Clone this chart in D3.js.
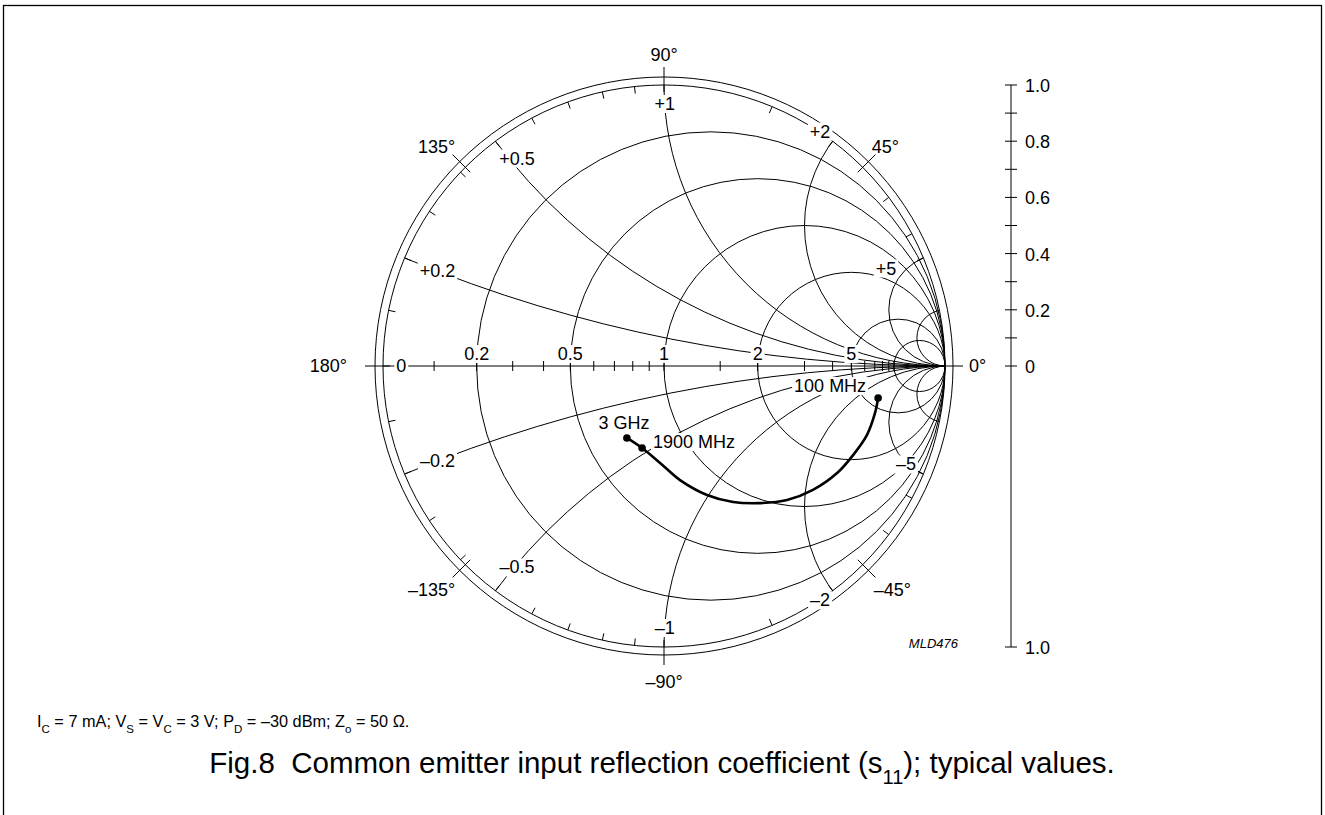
<!DOCTYPE html>
<html>
<head>
<meta charset="utf-8">
<script src="https://cdn.jsdelivr.net/npm/d3@7/dist/d3.min.js"></script>
<style>
body { margin: 0; background: #fff; }
svg { display: block; font-family: "Liberation Sans", Arial, sans-serif; }
</style>
</head>
<body>
<svg width="1325" height="815"></svg>
<script>
var svg = d3.select("svg"),
    width = +svg.attr("width"),
    height = +svg.attr("height");

var s11Re = [0.762, 0.751, 0.722, 0.673, 0.616, 0.530, 0.438, 0.342, 0.246, 0.153, 0.057, -0.014, -0.078, -0.132];
var s11Im = [-0.114, -0.167, -0.246, -0.317, -0.381, -0.441, -0.477, -0.488, -0.484, -0.459, -0.406, -0.345, -0.292, -0.256];
var markIndex = [0, 12, 13];
var markLabels = ["100 MHz", "1900 MHz", "3 GHz"];

// smith grid
var rCircles = [0.2, 0.5, 1, 2, 5, 10];
var rLabels = [0, 0.2, 0.5, 1, 2, 5];
var rTicks = [0.1, 0.2, 0.3, 0.4, 0.5, 0.6, 0.7, 0.8, 0.9, 1, 1.5, 2, 3, 4, 5, 6, 7, 8, 9, 10];
var xArcs = [0.2, 0.5, 1, 2, 5, 10];
var xLabels = [0.2, 0.5, 1, 2, 5];
var xTicks = [0.1, 0.2, 0.3, 0.4, 0.5, 0.6, 0.7, 0.8, 0.9, 1.5, 2, 3, 4, 5];
var angleTicks = [0, 45, 90, 135, 180, -45, -90, -135];
var magTicks = [0, 0.1, 0.2, 0.3, 0.4, 0.5, 0.6, 0.7, 0.8, 0.9, 1];
var magLabels = ["0", "0.2", "0.4", "0.6", "0.8", "1.0"];

var cx = 664, cy = 366, R = 281, R2 = 289;

var x = d3.scaleLinear().domain([-1, 1]).range([cx - R, cx + R]);
var y = d3.scaleLinear().domain([-1, 1]).range([cy + R, cy - R]);
var rad = d3.scaleLinear().domain([0, 1]).range([0, R]);

function gamma(r, xi) {
  var d = (r + 1) * (r + 1) + xi * xi;
  return [((r - 1) * (r + 1) + xi * xi) / d, 2 * xi / d];
}
function polar(deg, rpx) {
  var a = deg * Math.PI / 180;
  return [cx + rpx * Math.cos(a), cy - rpx * Math.sin(a)];
}

// frame
svg.append("rect")
  .attr("x", 3.5).attr("y", 5.5)
  .attr("width", 1318).attr("height", 830)
  .style("fill", "none").style("stroke", "#000").style("stroke-width", 1.3);

svg.append("defs").append("clipPath").attr("id", "unit")
  .append("circle").attr("cx", x(0)).attr("cy", y(0)).attr("r", rad(1));

var grid = svg.append("g")
  .style("fill", "none").style("stroke", "#000").style("stroke-width", 1);

// outer rings
grid.append("circle").attr("cx", x(0)).attr("cy", y(0)).attr("r", rad(1));
grid.append("circle").attr("cx", x(0)).attr("cy", y(0)).attr("r", R2);

// horizontal axis
grid.append("line")
  .attr("x1", x(-1)).attr("x2", x(1))
  .attr("y1", y(0)).attr("y2", y(0));

// resistance circles
grid.selectAll(".rc")
  .data(rCircles)
  .enter().append("circle")
  .attr("cx", function(d) { return x(d / (1 + d)); })
  .attr("cy", y(0))
  .attr("r", function(d) { return rad(1 / (1 + d)); });

// reactance arcs, clipped to the unit circle
grid.append("g").attr("clip-path", "url(#unit)")
  .selectAll("circle")
  .data(xArcs.concat(xArcs.map(function(d) { return -d; })))
  .enter().append("circle")
  .attr("cx", x(1))
  .attr("cy", function(d) { return y(1 / d); })
  .attr("r", function(d) { return rad(1 / Math.abs(d)); });

// ticks on the real axis
grid.selectAll(".rt")
  .data(rTicks)
  .enter().append("line")
  .attr("x1", function(d) { return x(gamma(d, 0)[0]); })
  .attr("x2", function(d) { return x(gamma(d, 0)[0]); })
  .attr("y1", y(0) - 5).attr("y2", y(0) + 5);

// ticks on the rim where reactance meets it
grid.selectAll(".xt")
  .data(xTicks.concat(xTicks.map(function(d) { return -d; })))
  .enter().append("line")
  .each(function(d) {
    var g = gamma(0, d), deg = Math.atan2(g[1], g[0]) * 180 / Math.PI;
    var p1 = polar(deg, R), p2 = polar(deg, R - 7);
    d3.select(this).attr("x1", p1[0]).attr("y1", p1[1]).attr("x2", p2[0]).attr("y2", p2[1]);
  });

// angle ticks
grid.selectAll(".at")
  .data(angleTicks)
  .enter().append("line")
  .each(function(d) {
    var p1 = polar(d, R - 7), p2 = polar(d, R2 + 10);
    d3.select(this).attr("x1", p1[0]).attr("y1", p1[1]).attr("x2", p2[0]).attr("y2", p2[1]);
  });

var labels = svg.append("g").style("font-size", "18px").style("fill", "#000");

function knockLabel(px, py, txt, anchor) {
  var g = labels.append("g");
  var t = g.append("text").attr("x", px).attr("y", py)
    .attr("text-anchor", anchor || "middle").text(txt);
  var b = t.node().getBBox();
  g.insert("rect", "text")
    .attr("x", b.x - 2).attr("y", b.y + 1)
    .attr("width", b.width + 4).attr("height", b.height - 2)
    .style("fill", "#fff");
  return t;
}

// resistance labels along the axis
rLabels.forEach(function(d) {
  if (d === 0) knockLabel(x(-0.935), y(0) + 6, "0");
  else knockLabel(x(gamma(d, 0)[0]), y(0) - 6, String(d));
});

// reactance labels near the rim (pixel nudges per label, upper half)
var xLabelNudge = [[0, 0], [3, -6], [0, 0], [-8, -16], [-36, 10]];
xLabels.forEach(function(d, i) {
  var gp = gamma(0.07, d), gm = gamma(0.07, -d), n = xLabelNudge[i];
  knockLabel(x(gp[0]) + n[0], y(gp[1]) + 6 + n[1], "+" + d);
  var mx = i === 4 ? -16 : n[0];
  var my = i === 4 ? -9 : -n[1];
  if (i === 1) my = 0;
  knockLabel(x(gm[0]) + mx, y(gm[1]) + 6 + my, "\u2013" + d);
});

// angle labels
angleTicks.forEach(function(d) {
  var p = polar(d, R2 + 12), txt = (d < 0 ? "\u2013" + (-d) : d) + "\u00b0";
  var anchor = "middle", dx = 0, dy = 6;
  if (d === 90) { dy = -4; }
  else if (d === -90) { dy = 21; }
  else if (d === 0) { anchor = "start"; dx = 4; }
  else if (d === 180) { anchor = "end"; dx = -16; }
  else if (d === 45) { anchor = "start"; dx = -5; dy = 0; }
  else if (d === 135) { anchor = "end"; dx = 4; dy = 0; }
  else if (d === -45) { anchor = "start"; dx = -3; dy = 17; }
  else if (d === -135) { anchor = "end"; dx = 4; dy = 17; }
  labels.append("text").attr("x", p[0] + dx).attr("y", p[1] + dy)
    .attr("text-anchor", anchor).text(txt);
});

// s11 curve
var pts = s11Re.map(function(d, i) { return [x(d), y(s11Im[i])]; });
var markPts = markIndex.map(function(i) { return pts[i]; });

var markOffsets = [[-48, -6], [52, 0], [-3, -9]];
markIndex.forEach(function(idx, i) {
  knockLabel(pts[idx][0] + markOffsets[i][0], pts[idx][1] + markOffsets[i][1], markLabels[i]);
});

svg.append("path")
  .datum(pts)
  .attr("d", d3.line().curve(d3.curveCatmullRom))
  .style("fill", "none").style("stroke", "#000").style("stroke-width", 2.6);

svg.selectAll(".mk")
  .data(markPts)
  .enter().append("circle")
  .attr("cx", function(d) { return d[0]; })
  .attr("cy", function(d) { return d[1]; })
  .attr("r", 3.8).style("fill", "#000");

// magnitude scale on the right
var mag = d3.scaleLinear().domain([0, 1]).range([cy, cy - R]);
var sx = 1011;
var side = svg.append("g").style("stroke", "#000").style("stroke-width", 1);
side.append("line").attr("x1", sx).attr("x2", sx).attr("y1", mag(1)).attr("y2", cy + R);
side.selectAll(".mt")
  .data(magTicks)
  .enter().append("line")
  .attr("x1", sx - 6).attr("x2", sx + 6)
  .attr("y1", function(d) { return mag(d); })
  .attr("y2", function(d) { return mag(d); });
side.append("line").attr("x1", sx - 6).attr("x2", sx + 6).attr("y1", cy + R).attr("y2", cy + R);

labels.selectAll(".ml")
  .data(magLabels)
  .enter().append("text")
  .attr("x", sx + 14)
  .attr("y", function(d) { return mag(+d) + 7; })
  .text(function(d) { return d; });
labels.append("text").attr("x", sx + 14).attr("y", cy + R + 7).text("1.0");

svg.append("text")
  .attr("x", 958).attr("y", 648)
  .attr("text-anchor", "end")
  .style("font-size", "13px").style("font-style", "italic")
  .text("MLD476");

// conditions
var cond = svg.append("text").attr("x", 37).attr("y", 727).style("font-size", "16.3px");
function sub(t, base, s) {
  t.append("tspan").text(base);
  t.append("tspan").attr("baseline-shift", "sub").style("font-size", "11.5px").text(s);
}
sub(cond, "I", "C");
sub(cond, " = 7 mA; V", "S");
sub(cond, " = V", "C");
sub(cond, " = 3 V; P", "D");
sub(cond, " = \u201330 dBm; Z", "o");
cond.append("tspan").text(" = 50 \u03a9.");

// caption
var cap = svg.append("text").attr("x", 662).attr("y", 773)
  .attr("text-anchor", "middle").style("font-size", "29.5px")
  .style("white-space", "pre");
cap.append("tspan").text("Fig.8  Common emitter input reflection coefficient (s");
cap.append("tspan").attr("baseline-shift", "sub").style("font-size", "20px").text("11");
cap.append("tspan").text("); typical values.");
</script>
</body>
</html>
